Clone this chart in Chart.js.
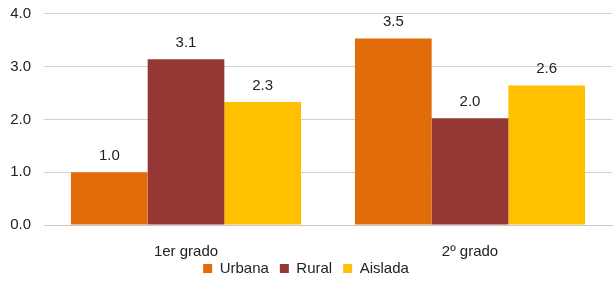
<!DOCTYPE html>
<html>
<head>
<meta charset="utf-8">
<script src="https://cdn.jsdelivr.net/npm/chart.js@4/dist/chart.umd.min.js"></script>
<style>
  html, body { margin: 0; padding: 0; background: #fff; }
  #wrap { width: 613px; height: 281px; }
</style>
</head>
<body>
<div id="wrap"><canvas id="chart"></canvas></div>
<script>
const categories = ['1er grado', '2º grado'];
const urbana = [1.0, 3.53];
const rural = [3.14, 2.02];
const aislada = [2.33, 2.64];
const yTicks = [0, 1, 2, 3, 4];

const FONT = '"Liberation Sans", Arial, sans-serif';

// draws the value on top of every bar
const valueLabels = {
  id: 'valueLabels',
  afterDatasetsDraw(chart) {
    const ctx = chart.ctx;
    ctx.save();
    ctx.font = '15px ' + FONT;
    ctx.fillStyle = '#222';
    ctx.textAlign = 'center';
    ctx.textBaseline = 'bottom';
    chart.data.datasets.forEach((ds, i) => {
      chart.getDatasetMeta(i).data.forEach((bar, j) => {
        ctx.fillText(ds.data[j].toFixed(1), bar.x, bar.y - 9);
      });
    });
    ctx.restore();
  }
};

new Chart(document.getElementById('chart'), {
  type: 'bar',
  data: {
    labels: categories,
    datasets: [
      { label: 'Urbana', data: urbana, backgroundColor: '#E36C0A' },
      { label: 'Rural', data: rural, backgroundColor: '#953735' },
      { label: 'Aislada', data: aislada, backgroundColor: '#FFC000' }
    ]
  },
  options: {
    responsive: true,
    maintainAspectRatio: false,
    animation: false,
    categoryPercentage: 0.81,
    barPercentage: 1.0,
    layout: { padding: { top: 0, right: 1, left: 0, bottom: -5 } },
    plugins: {
      legend: {
        position: 'bottom',
        labels: {
          boxWidth: 9,
          boxHeight: 9,
          padding: 11,
          color: '#222',
          font: { size: 15, family: FONT }
        }
      },
      tooltip: { enabled: false }
    },
    scales: {
      x: {
        afterFit(scale) {
          scale.height = 25;
          scale._computeLabelArea = () => null; // let the labels overlap the legend band
        },
        grid: { display: false, drawTicks: false },
        border: { color: '#c8c8c8' },
        ticks: {
          color: '#222',
          padding: 18,
          font: { size: 15, family: FONT }
        }
      },
      y: {
        min: yTicks[0],
        max: yTicks[yTicks.length - 1],
        afterFit(scale) { scale.width = 44; },
        afterBuildTicks(scale) { scale.ticks = yTicks.map(v => ({ value: v })); },
        grid: { color: '#d0d0d0', drawTicks: false },
        border: { display: false },
        ticks: {
          color: '#222',
          padding: 13,
          font: { size: 15, family: FONT, lineHeight: 0.1 },
          callback: v => v.toFixed(1)
        }
      }
    }
  },
  plugins: [valueLabels]
});
</script>
</body>
</html>
